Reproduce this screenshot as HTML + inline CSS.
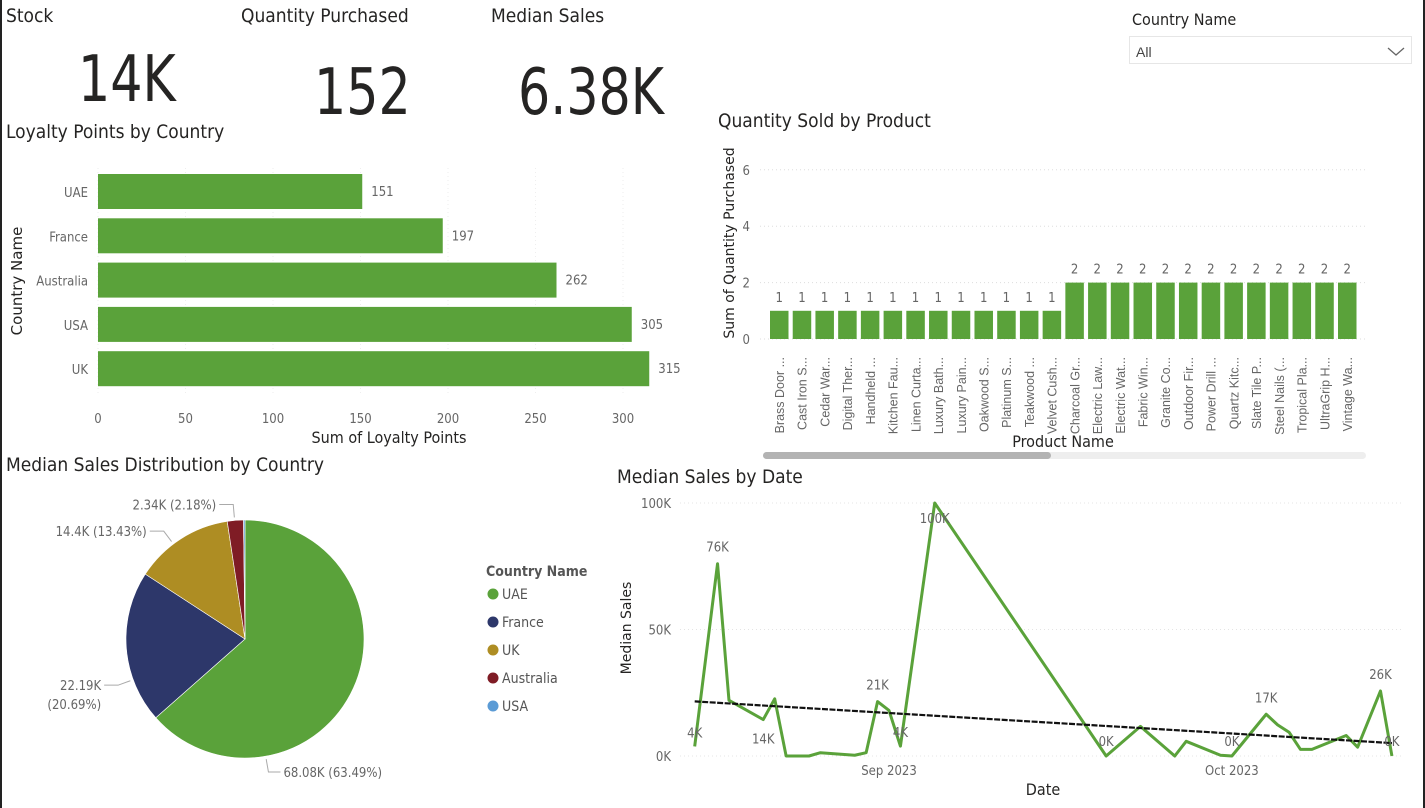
<!DOCTYPE html>
<html><head><meta charset="utf-8"><style>
body{margin:0;width:1425px;height:808px;background:#fff;overflow:hidden;position:relative;font-family:"Liberation Sans Narrow","DejaVu Sans Condensed","Liberation Sans",sans-serif;color:#252423}
.t{position:absolute;white-space:nowrap}
.ttl{font-size:19px;color:#252423}
.kpi{font-size:64px;color:#252423;transform:scaleX(0.88);transform-origin:left top}
svg{position:absolute;left:0;top:0}
</style></head><body>
<div style="position:absolute;left:0;top:0;width:2px;height:808px;background:#222"></div>
<div style="position:absolute;right:0;top:0;width:2px;height:808px;background:#222"></div>

<div class="t ttl" style="left:6px;top:5px">Stock</div>
<div class="t kpi" style="left:78px;top:43px">14K</div>
<div class="t ttl" style="left:241px;top:5px">Quantity Purchased</div>
<div class="t kpi" style="left:314px;top:56px">152</div>
<div class="t ttl" style="left:491px;top:5px">Median Sales</div>
<div class="t kpi" style="left:518px;top:56px">6.38K</div>

<div class="t" style="left:1132px;top:10px;font-size:16px">Country Name</div>
<div style="position:absolute;left:1129px;top:36px;width:283px;height:28px;border:1px solid #e6e6e6;box-sizing:border-box">
<span class="t" style="left:6px;top:7px;font-family:'Liberation Sans',sans-serif;font-size:14px;color:#444">All</span>
<svg width="20" height="12" style="left:256px;top:9px"><path d="M2 2 L10 9 L18 2" fill="none" stroke="#666" stroke-width="1.3"/></svg>
</div>

<div class="t ttl" style="left:6px;top:121px">Loyalty Points by Country</div>
<div class="t ttl" style="left:718px;top:110px">Quantity Sold by Product</div>
<div class="t ttl" style="left:6px;top:454px">Median Sales Distribution by Country</div>
<div class="t ttl" style="left:617px;top:466px">Median Sales by Date</div>

<svg id="chart" width="1425" height="808"></svg>

<script>
// Loyalty bar chart data
const barCats=["UAE","France","Australia","USA","UK"];
const barVals=[151,197,262,305,315];
const barTicks=[0,50,100,150,200,250,300];
// Product column chart data
const prodCats=["Brass Door ...","Cast Iron S...","Cedar War...","Digital Ther...","Handheld ...","Kitchen Fau...","Linen Curta...","Luxury Bath...","Luxury Pain...","Oakwood S...","Platinum S...","Teakwood ...","Velvet Cush...","Charcoal Gr...","Electric Law...","Electric Wat...","Fabric Win...","Granite Co...","Outdoor Fir...","Power Drill ...","Quartz Kitc...","Slate Tile P...","Steel Nails (...","Tropical Pla...","UltraGrip H...","Vintage Wa..."];
const prodVals=[1,1,1,1,1,1,1,1,1,1,1,1,1,2,2,2,2,2,2,2,2,2,2,2,2,2];
const prodTicks=[0,2,4,6];
// Pie data
const pieCats=["UAE","France","UK","Australia","USA"];
const pieVals=[68.08,22.19,14.4,2.34,0.22];
const pieLabels=["68.08K (63.49%)","22.19K|(20.69%)","14.4K (13.43%)","2.34K (2.18%)",""];
const pieLabelAngles=[170,250,323,355,0];
const pieColors=["#5aa23a","#2d376a","#ae8d23","#7f1c25","#5b9bd5"];
// Line chart data (day offset from 1 Sep 2023, value in thousands)
const lineDays=[-17,-15,-14,-11,-10,-9,-7,-6,-3,-2,-1,0,1,4,19,22,25,26,29,30,33,34,35,36,37,40,41,43,44];
const lineVals=[3.8,76,22,14.4,22.6,0,0,1.3,0.3,1.3,21.5,18,3.9,100,0,11.7,0,5.8,0.3,0,16.5,12.3,9.4,2.6,2.6,8.1,3.5,25.7,0];
const lineLabels={0:"4K",1:"76K",3:"14K",10:"21K",12:"4K",13:"100K",14:"0K",19:"0K",20:"17K",27:"26K",28:"0K"};
const lineTicks=[0,50,100];

const svg=document.getElementById('chart');const NS="http://www.w3.org/2000/svg";
function mk(tag,attrs,parent){const e=document.createElementNS(NS,tag);for(const k in attrs)e.setAttribute(k,attrs[k]);(parent||svg).appendChild(e);return e;}
function txt(s,x,y,size,fill,anchor,extra){const e=mk('text',Object.assign({x:x,y:y,'font-size':size,fill:fill,'text-anchor':anchor||'start','font-family':'"Liberation Sans Narrow","DejaVu Sans Condensed",sans-serif'},extra||{}));e.textContent=s;return e;}
const G="#5aa23a";

// ---- bar chart
const bx=v=>98+v*1.75;
barTicks.forEach(t=>{const g=mk('line',{x1:bx(t),x2:bx(t),y1:168,y2:395,stroke:'#eee','stroke-dasharray':'1,3'});
const l=txt(t,bx(t),423,13,'#666','middle');});
barCats.forEach((c,i)=>{const y=174+i*44.3;
const r=mk('rect',{x:bx(0),y:y,width:bx(barVals[i])-bx(0),height:35,fill:G});
const l=txt(c,88,y+23,13,'#666','end');
const v=txt(barVals[i],bx(barVals[i])+9,y+22,13,'#666','start');});
let e=txt('Sum of Loyalty Points',389,443,16,'#252423','middle');
e=txt('Country Name',22,281,15,'#252423','middle',{transform:'rotate(-90 22 281)','font-family':'"DejaVu Sans",sans-serif'});

// ---- column chart
const cy=v=>339-v*28.2;
prodTicks.forEach(t=>{const g=mk('line',{x1:760,x2:1365,y1:cy(t),y2:cy(t),stroke:'#ddd','stroke-dasharray':'1,3'});
const l=txt(t,750,cy(t)+5,13,'#666','end');});
prodCats.forEach((c,i)=>{const x=770+i*22.72;
const r=mk('rect',{x:x,y:cy(prodVals[i]),width:18.5,height:cy(0)-cy(prodVals[i]),fill:G});
const v=txt(prodVals[i],x+9.2,cy(prodVals[i])-9,13,'#666','middle');
const l=txt(c,x+14,357,12.5,'#666','end',{transform:`rotate(-90 ${x+14} 357)`,'font-family':'"Liberation Sans",sans-serif'});});
e=txt('Product Name',1063,447,16,'#252423','middle');
e=txt('Sum of Quantity Purchased',734,243,14,'#252423','middle',{transform:'rotate(-90 734 243)','font-family':'"DejaVu Sans",sans-serif'});
e=mk('rect',{x:763,y:452,width:603,height:7,rx:3.5,fill:'#eee'});
e=mk('rect',{x:763,y:452,width:288,height:7,rx:3.5,fill:'#b3b3b3'});

// ---- pie
const pcx=245,pcy=639,pr=119;const tot=pieVals.reduce((a,b)=>a+b,0);let ang=0;
pieVals.forEach((v,i)=>{const a0=ang,a1=ang+v/tot*2*Math.PI;ang=a1;
const p=(a)=>[pcx+pr*Math.sin(a),pcy-pr*Math.cos(a)];const [x0,y0]=p(a0),[x1,y1]=p(a1);
const s=mk('path',{d:`M${pcx},${pcy} L${x0},${y0} A${pr},${pr} 0 ${a1-a0>Math.PI?1:0} 1 ${x1},${y1} Z`,fill:pieColors[i],stroke:'#fff','stroke-width':0.6});

if(pieLabels[i]){const am=pieLabelAngles[i]*Math.PI/180;const [ex,ey]=[pcx+(pr+3)*Math.sin(am),pcy-(pr+3)*Math.cos(am)];
const [kx,ky]=[pcx+(pr+16)*Math.sin(am),pcy-(pr+16)*Math.cos(am)];const right=Math.sin(am)>0.05||i===0;
const hx=right?kx+12:kx-14;
const ln=mk('polyline',{points:`${ex},${ey} ${kx},${ky} ${hx},${ky}`,fill:'none',stroke:'#aaa'});
const parts=pieLabels[i].split('|');parts.forEach((pt,j)=>{const l=txt(pt,right?hx+3:hx-3,ky+5+j*19,13,'#666',right?'start':'end');});}});
e=txt('Country Name',486,576,14,'#555','start',{'font-weight':'bold'});
pieCats.forEach((c,i)=>{const y=594+i*28;const d=mk('circle',{cx:493,cy:y,r:5.5,fill:pieColors[i]});
const l=txt(c,502,y+5,14,'#555','start');});

// ---- line chart
const lx=d=>889+d*11.43, ly=v=>756-v*2.53;
lineTicks.forEach(t=>{const g=mk('line',{x1:680,x2:1402,y1:ly(t),y2:ly(t),stroke:'#e4e4e4','stroke-dasharray':'1,3'});
const l=txt(t+'K',671,ly(t)+5,13,'#666','end');});
[[0,'Sep 2023'],[30,'Oct 2023']].forEach(([d,s])=>{const l=txt(s,lx(d),775,13,'#666','middle');});
const pts=lineDays.map((d,i)=>lx(d)+','+ly(lineVals[i])).join(' ');
e=mk('polyline',{points:pts,fill:'none',stroke:G,'stroke-width':3,'stroke-linejoin':'round'});
const n=lineDays.length,mx=lineDays.reduce((a,b)=>a+b,0)/n,my=lineVals.reduce((a,b)=>a+b,0)/n;
let sxy=0,sxx=0;lineDays.forEach((d,i)=>{sxy+=(d-mx)*(lineVals[i]-my);sxx+=(d-mx)*(d-mx);});const sl=sxy/sxx,ic=my-sl*mx;
const d0=lineDays[0],d1=lineDays[n-1];
e=mk('line',{x1:lx(d0),y1:ly(ic+sl*d0),x2:lx(d1),y2:ly(ic+sl*d1),stroke:'#111','stroke-width':2.2,'stroke-dasharray':'6,1.5'});
for(const k in lineLabels){const i=+k;const l=txt(lineLabels[k],lx(lineDays[i]),ly(lineVals[i])-12,13,'#666','middle');
if(lineVals[i]<=5)l.setAttribute('y',ly(lineVals[i])-9);
if(i===13)l.setAttribute('y',ly(lineVals[i])+20);
if(i===3)l.setAttribute('y',ly(lineVals[i])+24);
if(i===14||i===19||i===28)l.setAttribute('y',ly(lineVals[i])-10);
}
e=txt('Date',1043,795,16,'#252423','middle');
e=txt('Median Sales',631,628,14,'#252423','middle',{transform:'rotate(-90 631 628)','font-family':'"DejaVu Sans",sans-serif'});
</script>
</body></html>
